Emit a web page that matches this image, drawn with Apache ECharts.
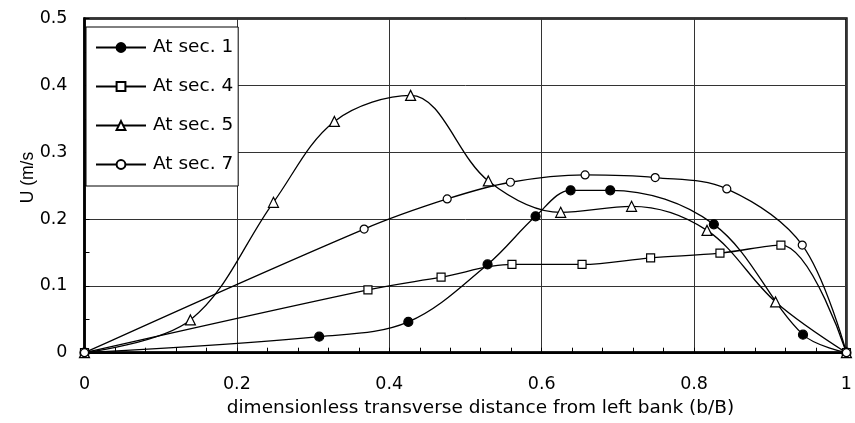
<!DOCTYPE html>
<html>
<head>
<meta charset="utf-8">
<script src="https://cdn.jsdelivr.net/npm/echarts@6/dist/echarts.min.js"></script>
<style>
  html, body { margin: 0; padding: 0; background: #fff; }
  #chart { width: 855px; height: 423px; }
</style>
</head>
<body>
<div id="chart"></div>
<script>
// Transverse velocity profiles, U (m/s) against b/B, for four sections
const xTickLabels = ['0', '0.2', '0.4', '0.6', '0.8', '1'];
const yTickLabels = ['0', '0.1', '0.2', '0.3', '0.4', '0.5'];

const sec1X = [0, 0.308, 0.425, 0.529, 0.592, 0.638, 0.690, 0.826, 0.943, 1];
const sec1U = [0, 0.024, 0.046, 0.132, 0.204, 0.243, 0.243, 0.192, 0.027, 0];

const sec4X = [0, 0.372, 0.468, 0.561, 0.653, 0.743, 0.834, 0.914, 1];
const sec4U = [0, 0.094, 0.113, 0.132, 0.132, 0.142, 0.149, 0.161, 0];

const sec5X = [0, 0.139, 0.248, 0.328, 0.428, 0.530, 0.625, 0.718, 0.817, 0.907, 1];
const sec5U = [0, 0.049, 0.225, 0.346, 0.385, 0.257, 0.210, 0.219, 0.183, 0.076, 0];

const sec7X = [0, 0.367, 0.476, 0.559, 0.657, 0.749, 0.843, 0.942, 1];
const sec7U = [0, 0.185, 0.230, 0.255, 0.266, 0.262, 0.245, 0.161, 0];

const seriesNames = ['At sec. 1', 'At sec. 4', 'At sec. 5', 'At sec. 7'];

const WIDE = '"DejaVu Sans", Verdana, sans-serif';
const PLAIN = '"Liberation Sans", Arial, sans-serif';

function pairs(xs, ys) {
  return xs.map((x, i) => [x, ys[i]]);
}

function profile(name, xs, ys, symbol, size, fill) {
  return {
    name: name,
    type: 'line',
    smooth: 0.35,
    data: pairs(xs, ys),
    symbol: symbol,
    symbolSize: size,
    showAllSymbol: true,
    lineStyle: { color: '#000', width: 1.3 },
    itemStyle: { color: fill, borderColor: '#000', borderWidth: 1.2 },
    emphasis: { disabled: true },
    z: 3
  };
}

const chart = echarts.init(document.getElementById('chart'), null, { renderer: 'canvas' });

chart.setOption({
  animation: false,
  backgroundColor: '#fff',
  textStyle: { fontFamily: WIDE },
  grid: {
    left: 84.5, right: 5.5, top: 18.5, bottom: 70.3,
    show: true, borderColor: '#000', borderWidth: 2.5, backgroundColor: 'transparent'
  },
  legend: {
    orient: 'vertical',
    left: 86, top: 27,
    padding: [11, 5, 12, 9],
    itemWidth: 50, itemHeight: 11, itemGap: 20,
    backgroundColor: '#fff',
    borderColor: '#000', borderWidth: 1,
    selectedMode: false,
    textStyle: { fontSize: 18.5, color: '#000', fontFamily: WIDE, padding: [0, 0, 0, 2] },
    data: seriesNames
  },
  xAxis: {
    type: 'value',
    min: 0, max: 1, interval: 0.2,
    name: 'dimensionless transverse distance from left bank (b/B)',
    nameLocation: 'middle',
    nameGap: 46,
    nameMoveOverlap: false,
    nameTextStyle: { fontSize: 18.5, color: '#000', fontFamily: WIDE, padding: [0, 0, 0, 30] },
    axisLine: { show: true, onZero: false, lineStyle: { color: '#000', width: 2.5 } },
    axisTick: { show: true, inside: true, length: 5, lineStyle: { color: '#000', width: 1 } },
    minorTick: { show: true, splitNumber: 5, length: 5, lineStyle: { color: '#000', width: 1 } },
    axisLabel: {
      margin: 23, fontSize: 17.5, color: '#000', fontFamily: WIDE,
      formatter: v => xTickLabels[Math.round(v / 0.2)]
    },
    splitLine: { show: true, lineStyle: { color: '#333', width: 1 } }
  },
  yAxis: {
    type: 'value',
    min: 0, max: 0.5, interval: 0.1,
    name: 'U (m/s',
    nameLocation: 'middle',
    nameGap: 47,
    nameMoveOverlap: false,
    nameRotate: 90,
    nameTextStyle: { fontSize: 17.5, color: '#000', fontFamily: PLAIN, padding: [0, 0, 0, 16] },
    axisLine: { show: true, onZero: false, lineStyle: { color: '#000', width: 2.5 } },
    axisTick: { show: true, inside: true, length: 5, lineStyle: { color: '#000', width: 1 } },
    minorTick: { show: true, splitNumber: 2, length: 5, lineStyle: { color: '#000', width: 1 } },
    axisLabel: {
      margin: 17, fontSize: 17.5, color: '#000', fontFamily: WIDE,
      formatter: v => yTickLabels[Math.round(v / 0.1)]
    },
    splitLine: { show: true, lineStyle: { color: '#333', width: 1 } }
  },
  series: [
    profile(seriesNames[0], sec1X, sec1U, 'circle', 9, '#000'),
    profile(seriesNames[1], sec4X, sec4U, 'rect', 8, '#fff'),
    profile(seriesNames[2], sec5X, sec5U, 'triangle', 10, '#fff'),
    profile(seriesNames[3], sec7X, sec7U, 'circle', 8, '#fff')
  ]
});
</script>
</body>
</html>
